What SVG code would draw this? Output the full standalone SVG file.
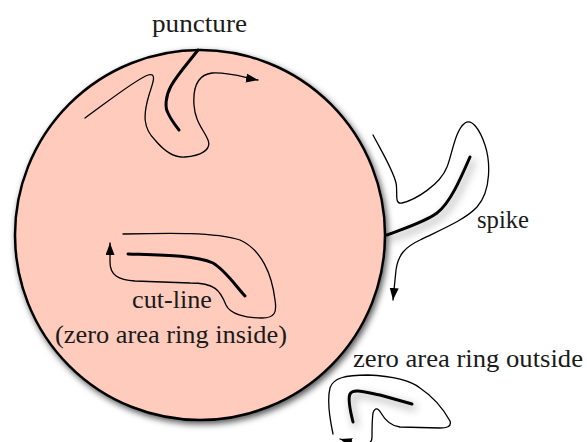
<svg xmlns="http://www.w3.org/2000/svg" width="587" height="442" viewBox="0 0 587 442">
<style>
.thin{fill:none;stroke:#000;stroke-width:1.3;stroke-linecap:round;stroke-linejoin:round}
.thick{fill:none;stroke:#000;stroke-width:3;stroke-linecap:round;stroke-linejoin:round}
</style>
<defs>
<filter id="sh" x="-20%" y="-20%" width="140%" height="140%">
<feDropShadow dx="2" dy="3" stdDeviation="3" flood-color="#000" flood-opacity="0.65"/>
</filter>
<filter id="sh2" x="-50%" y="-50%" width="200%" height="200%">
<feDropShadow dx="3" dy="4" stdDeviation="4" flood-color="#000" flood-opacity="0.45"/>
</filter>
<marker id="ah" markerUnits="userSpaceOnUse" markerWidth="13" markerHeight="10" refX="12" refY="4.5" orient="auto">
<path d="M0,0 L12,4.5 L0,9 z" fill="#000"/>
</marker>
</defs>
<g id="region">
<circle cx="200" cy="235" r="185" fill="#ffcbbc" stroke="#000" stroke-width="2.5" filter="url(#sh)"/>
</g>
<g id="puncture">
<path class="thick" d="M198,50 C188,63 177,75 171,86 C165,97 165,108 168,113 C171,120 176,126 179,130"/>
<path class="thin" marker-end="url(#ah)" d="M85,118 C110,100 135,80 148,75 C158,72 152,85 149,95 C143,115 143,128 155,140 C165,152 175,158 185,157 C200,156 212,150 208,140 C204,130 195,122 194,105 C193,90 196,75 212,73 C230,72 246,78 258,80"/>
</g>
<g id="spike">
<path class="thick" filter="url(#sh2)" d="M387,235 C405,228 425,222 437,213 C450,203 460,180 470,157"/>
<path class="thin" marker-end="url(#ah)" d="M373,135 C382,152 393,170 396,183 C398,192 394,205 402,203 C415,200 440,185 447,167 C452,155 455,130 465,123 C472,118 480,130 485,145 C490,160 492,190 477,207 C465,220 440,230 420,240 C405,247 398,255 396,270 L394,290 L393,300"/>
</g>
<g id="cut-line">
<path class="thick" d="M128,254 C160,255 195,255 213,263 C225,270 235,285 245,296"/>
<path class="thin" marker-end="url(#ah)" d="M123,234 C170,233 215,232 240,240 C262,250 272,275 275,300 C277,312 275,318 262,318 C245,318 230,314 226,305 C220,290 215,283 190,283 L135,281 C118,280 110,275 110,262 L110,243"/>
</g>
<g id="ring-outside">
<path class="thick" filter="url(#sh2)" d="M353,422 C350,410 348,398 350,394 C353,388 365,392 380,395 L412,404"/>
<path class="thin" marker-end="url(#ah)" d="M333,434 C330,420 327,400 330,388 C333,378 345,375 368,375 C390,376 410,380 420,388 C435,398 445,412 450,421 C452,427 446,428 440,428 L400,427 C390,426 385,420 381,413 C378,408 375,407 373,413 C372,420 372,430 372,437 C372,447 362,446 340,439"/>
</g>
<g id="labels" font-family="Liberation Serif, DejaVu Serif, serif" font-size="25" fill="#1a1a1a">
<text x="152" y="32" textLength="95" lengthAdjust="spacingAndGlyphs">puncture</text>
<text x="477" y="228" textLength="52" lengthAdjust="spacingAndGlyphs">spike</text>
<text x="132" y="308" textLength="80" lengthAdjust="spacingAndGlyphs">cut-line</text>
<text x="55" y="343" textLength="232" lengthAdjust="spacingAndGlyphs">(zero area ring inside)</text>
<text x="353" y="367" textLength="230" lengthAdjust="spacingAndGlyphs">zero area ring outside</text>
</g>
</svg>
